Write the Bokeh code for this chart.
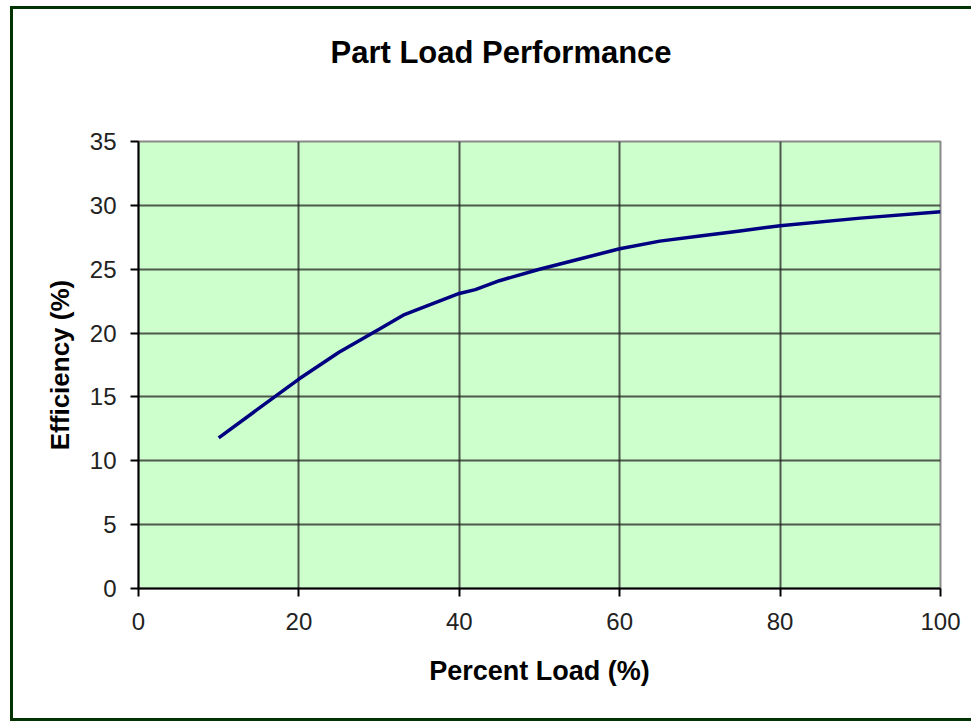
from bokeh.plotting import figure
from bokeh.models import FixedTicker, Range1d, InlineStyleSheet, Title
from bokeh.embed import file_html
from bokeh.resources import INLINE

# Data
load_pct = [10, 15, 20, 25, 30, 33, 35, 40, 42, 45, 50, 55, 60, 65, 70, 75, 80, 90, 100]
efficiency = [11.8, 14.1, 16.4, 18.5, 20.3, 21.4, 21.9, 23.1, 23.4, 24.1, 25.0, 25.8, 26.6, 27.2, 27.6, 28.0, 28.4, 29.0, 29.5]
x_ticks = [0, 20, 40, 60, 80, 100]
y_ticks = [0, 5, 10, 15, 20, 25, 30, 35]

FONT = "Liberation Sans"

p = figure(width=971, height=723, output_backend="svg", toolbar_location=None,
           x_range=Range1d(0, 100), y_range=Range1d(0, 35),
           min_border_left=138, min_border_right=31, min_border_top=141, min_border_bottom=135,
           title="Part Load Performance")

p.background_fill_color = "#CCFFCC"
p.border_fill_color = "white"
p.outline_line_color = "#8a8a8a"
p.outline_line_width = 2

p.title.align = "left"
p.title.offset = 192
p.title.text_font = FONT
p.title.text_font_size = "31px"
p.title.text_font_style = "bold"
p.title.text_color = "black"
p.title.standoff = 10

# blank spacer between title and plot area
p.add_layout(Title(text=" ", text_font_size="1px", standoff=64), "above")

p.line(load_pct, efficiency, line_color="#000080", line_width=3.5)

for ax in (p.xaxis[0], p.yaxis[0]):
    ax.axis_line_color = "black"
    ax.axis_line_width = 2
    ax.major_tick_line_color = "black"
    ax.major_tick_line_width = 2
    ax.major_tick_out = 8
    ax.major_tick_in = 0
    ax.minor_tick_line_color = None
    ax.major_label_text_font = FONT
    ax.major_label_text_font_size = "24px"
    ax.major_label_text_color = "#222222"
    ax.axis_label_text_font = FONT
    ax.axis_label_text_font_style = "bold"
    ax.axis_label_text_color = "black"

p.xaxis.ticker = FixedTicker(ticks=x_ticks)
p.yaxis.ticker = FixedTicker(ticks=y_ticks)
p.xaxis.axis_label = "Percent Load (%)"
p.yaxis.axis_label = "Efficiency (%)"
p.xaxis.axis_label_text_font_size = "27px"
p.yaxis.axis_label_text_font_size = "26px"
p.xaxis.major_label_standoff = 16
p.yaxis.major_label_standoff = 14
p.xaxis.axis_label_standoff = 23
p.yaxis.axis_label_standoff = 12

p.xgrid.ticker = FixedTicker(ticks=x_ticks)
p.ygrid.ticker = FixedTicker(ticks=y_ticks)
for g in (p.xgrid[0], p.ygrid[0]):
    g.grid_line_color = "#222222"
    g.grid_line_width = 2
    g.grid_line_alpha = 0.75

# outer chart border (dark green), drawn around the whole chart area
p.stylesheets = [InlineStyleSheet(css="""
:host { position: relative; }
:host::after {
  content: "";
  position: absolute;
  left: 10px; top: 6px; width: 975px; height: 709px;
  border: 3px solid #003300;
  pointer-events: none;
  z-index: 10;
}
""")]

open("out.html", "w").write(file_html(p, INLINE))
